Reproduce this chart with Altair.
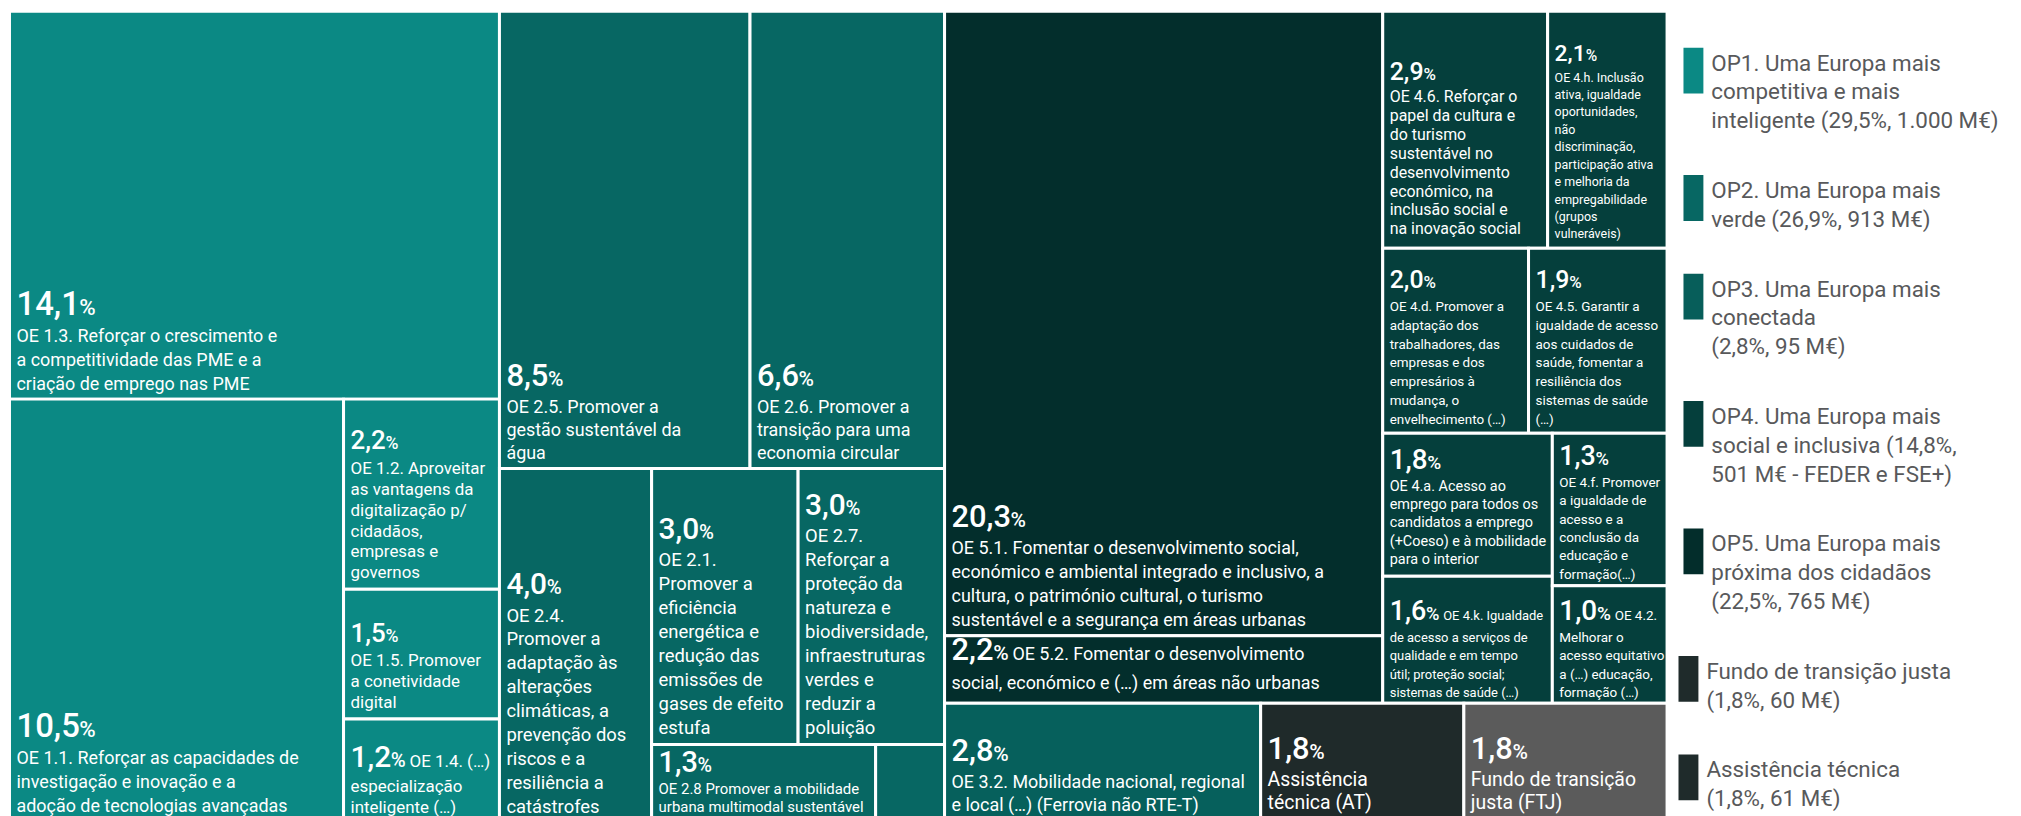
import altair as alt
import pandas as pd

# ---------------- data ----------------
tiles = ["OE 1.3", "OE 1.1", "OE 1.2", "OE 1.5", "OE 1.4",
         "OE 2.5", "OE 2.6", "OE 2.4", "OE 2.1", "OE 2.7", "OE 2.8", "OE 2.x",
         "OE 5.1", "OE 5.2",
         "OE 4.6", "OE 4.h", "OE 4.d", "OE 4.5", "OE 4.a", "OE 4.k", "OE 4.f", "OE 4.2",
         "OE 3.2", "AT", "FTJ"]
values = [14.1, 10.5, 2.2, 1.5, 1.2,
          8.5, 6.6, 4.0, 3.0, 3.0, 1.3, 0.4,
          20.3, 2.2,
          2.9, 2.1, 2.0, 1.9, 1.8, 1.6, 1.3, 1.0,
          2.8, 1.8, 1.8]
groups = ["OP1"] * 5 + ["OP2"] * 7 + ["OP5"] * 2 + ["OP4"] * 8 + ["OP3", "AT", "FTJ"]

descriptions = [
    ["OE 1.3. Reforçar o crescimento e", "a competitividade das PME e a", "criação de emprego nas PME"],
    ["OE 1.1. Reforçar as capacidades de", "investigação e inovação e a", "adoção de tecnologias avançadas"],
    ["OE 1.2. Aproveitar", "as vantagens da", "digitalização p/", "cidadãos,", "empresas e", "governos"],
    ["OE 1.5. Promover", "a conetividade", "digital"],
    ["OE 1.4. (…)", "especialização", "inteligente (…)"],
    ["OE 2.5. Promover a", "gestão sustentável da", "água"],
    ["OE 2.6. Promover a", "transição para uma", "economia circular"],
    ["OE 2.4.", "Promover a", "adaptação às", "alterações", "climáticas, a", "prevenção dos",
     "riscos e a", "resiliência a", "catástrofes"],
    ["OE 2.1.", "Promover a", "eficiência", "energética e", "redução das", "emissões de",
     "gases de efeito", "estufa"],
    ["OE 2.7.", "Reforçar a", "proteção da", "natureza e", "biodiversidade,", "infraestruturas",
     "verdes e", "reduzir a", "poluição"],
    ["OE 2.8 Promover a mobilidade", "urbana multimodal sustentável"],
    [],
    ["OE 5.1. Fomentar o desenvolvimento social,", "económico e ambiental integrado e inclusivo, a",
     "cultura, o património cultural, o turismo", "sustentável e a segurança em áreas urbanas"],
    ["OE 5.2. Fomentar o desenvolvimento", "social, económico e (…) em áreas não urbanas"],
    ["OE 4.6. Reforçar o", "papel da cultura e", "do turismo", "sustentável no", "desenvolvimento",
     "económico, na", "inclusão social e", "na inovação social"],
    ["OE 4.h. Inclusão", "ativa, igualdade", "oportunidades,", "não", "discriminação,",
     "participação ativa", "e melhoria da", "empregabilidade", "(grupos", "vulneráveis)"],
    ["OE 4.d. Promover a", "adaptação dos", "trabalhadores, das", "empresas e dos", "empresários à",
     "mudança, o", "envelhecimento (…)"],
    ["OE 4.5. Garantir a", "igualdade de acesso", "aos cuidados de", "saúde, fomentar a",
     "resiliência dos", "sistemas de saúde", "(…)"],
    ["OE 4.a. Acesso ao", "emprego para todos os", "candidatos a emprego", "(+Coeso) e à mobilidade",
     "para o interior"],
    ["OE 4.k. Igualdade", "de acesso a serviços de", "qualidade e em tempo", "útil; proteção social;",
     "sistemas de saúde (…)"],
    ["OE 4.f. Promover", "a igualdade de", "acesso e a", "conclusão da", "educação e", "formação(…)"],
    ["OE 4.2.", "Melhorar o", "acesso equitativo", "a (…) educação,", "formação (…)"],
    ["OE 3.2. Mobilidade nacional, regional", "e local (…) (Ferrovia não RTE-T)"],
    ["Assistência", "técnica (AT)"],
    ["Fundo de transição", "justa (FTJ)"],
]
# first description line sits on the same line as the percentage
inline_first = [False, False, False, False, True,
                False, False, False, False, False, False, False,
                False, True,
                False, False, False, False, False, True, False, True,
                False, False, False]

legend_groups = ["OP1", "OP2", "OP3", "OP4", "OP5", "FTJ", "AT"]
legend_labels = [
    ["OP1. Uma Europa mais", "competitiva e mais", "inteligente (29,5%, 1.000 M€)"],
    ["OP2. Uma Europa mais", "verde (26,9%, 913 M€)"],
    ["OP3. Uma Europa mais", "conectada", "(2,8%, 95 M€)"],
    ["OP4. Uma Europa mais", "social e inclusiva (14,8%,", "501 M€ - FEDER e FSE+)"],
    ["OP5. Uma Europa mais", "próxima  dos cidadãos", "(22,5%, 765 M€)"],
    ["Fundo de transição justa", "(1,8%, 60 M€)"],
    ["Assistência técnica", "(1,8%, 61 M€)"],
]

# nesting of the treemap: "h" = side by side, "v" = stacked
layout_tree = ("h", [
    ("v", ["OE 1.3", ("h", ["OE 1.1", ("v", ["OE 1.2", "OE 1.5", "OE 1.4"])])]),
    ("v", [("h", ["OE 2.5", "OE 2.6"]),
           ("h", ["OE 2.4", ("v", [("h", ["OE 2.1", "OE 2.7"]), ("h", ["OE 2.8", "OE 2.x"])])])]),
    ("v", [("h", [("v", ["OE 5.1", "OE 5.2"]),
                  ("v", [("h", ["OE 4.6", "OE 4.h"]),
                         ("h", ["OE 4.d", "OE 4.5"]),
                         ("h", [("v", ["OE 4.a", "OE 4.k"]), ("v", ["OE 4.f", "OE 4.2"])])])]),
           ("h", ["OE 3.2", "AT", "FTJ"])]),
])

# ---------------- styles ----------------
FONT = "Roboto"
tile_colors = {"OP1": "#0b8984", "OP2": "#076763", "OP3": "#06605c", "OP4": "#053f3c",
               "OP5": "#032e2c", "AT": "#1f2a2a", "FTJ": "#5b5b5b"}
legend_colors = {"OP1": "#0b8984", "OP2": "#076763", "OP3": "#075e5a", "OP4": "#053f3c",
                 "OP5": "#032d2b", "FTJ": "#1f2b2b", "AT": "#1f2b2b"}
legend_indent = {"FTJ": -5, "AT": -5}
# pct font, description font, line height, bottom padding
text_styles = {
    "OE 1.3": (33, 18, 24, 9), "OE 1.1": (33, 18, 24, 11),
    "OE 1.2": (26, 17, 21, 11), "OE 1.5": (26, 17, 21, 11), "OE 1.4": (30, 17, 21, 10),
    "OE 2.5": (31, 18, 23, 10), "OE 2.6": (31, 18, 23, 10),
    "OE 2.4": (30, 18.5, 24, 10), "OE 2.1": (30, 18.5, 24, 11), "OE 2.7": (30, 18.5, 24, 11),
    "OE 2.8": (29, 15, 18, 11),
    "OE 5.1": (31, 18, 24, 10), "OE 5.2": (31, 18, 26, 14),
    "OE 4.6": (25, 16, 19, 14), "OE 4.h": (23, 12.5, 17.5, 10),
    "OE 4.d": (25, 13.5, 19, 9), "OE 4.5": (25, 13.5, 19, 9),
    "OE 4.a": (28, 14.5, 18.5, 12), "OE 4.k": (27, 13, 18.5, 6),
    "OE 4.f": (27, 13.5, 18.5, 7), "OE 4.2": (28, 13.5, 18.5, 6),
    "OE 3.2": (31, 18, 23, 12), "AT": (31, 19.5, 23, 14), "FTJ": (31, 19.5, 23, 14),
}
inline_gap = 4

W, H = 2013, 808            # drawing area in pixels (page margin 8)
TREE_BOX = (0.5, 1.5, 1665.5, 816.5)

# ---------------- treemap layout from the values ----------------
val = dict(zip(tiles, values))


def total(node):
    if isinstance(node, str):
        return val[node]
    return sum(total(c) for c in node[1])


rects = {}


def layout(node, x0, y0, x1, y1):
    if isinstance(node, str):
        rects[node] = (x0, y0, x1, y1)
        return
    orient, kids = node
    t = total(node)
    pos = x0 if orient == "h" else y0
    for k in kids:
        share = total(k) / t
        if orient == "h":
            w = (x1 - x0) * share
            layout(k, pos, y0, pos + w, y1)
            pos += w
        else:
            h = (y1 - y0) * share
            layout(k, x0, pos, x1, pos + h)
            pos += h


layout(layout_tree, *TREE_BOX)

tile_df = pd.DataFrame([
    dict(tile=t, group=g, value=v, color=tile_colors[g],
         x0=rects[t][0], y0=rects[t][1], x1=rects[t][2], y1=rects[t][3])
    for t, v, g in zip(tiles, values, groups)
])


def num_width(s):
    # Roboto Medium advance widths (em)
    return sum(0.5615 if ch.isdigit() else 0.21 for ch in s)


pct_rows, desc_rows = [], []
for t, v, lines, inl in zip(tiles, values, descriptions, inline_first):
    if not lines:
        continue
    pfs, dfs, lh, pb = text_styles[t]
    x0, y0, x1, y1 = rects[t]
    tx = x0 + 7
    yb = y1 - pb
    below = lines[1:] if inl else lines
    n = len(below)
    for i, ln in enumerate(below):
        desc_rows.append(dict(x=tx, y=yb - (n - 1 - i) * lh, text=ln, fs=dfs))
    first = yb - (n - 1) * lh
    py = first - (lh + 3.5)
    label = f"{v:.1f}".replace(".", ",")
    wd = num_width(label) * pfs
    sfs = pfs * 0.68
    pct_rows.append(dict(x=tx, y=py, text=label, fs=pfs))
    pct_rows.append(dict(x=tx + wd + 0.5, y=py, text="%", fs=sfs))
    if inl:
        desc_rows.append(dict(x=tx + wd + 0.75 * sfs + inline_gap, y=py, text=lines[0], fs=dfs))
pct_df = pd.DataFrame(pct_rows)
desc_df = pd.DataFrame(desc_rows)

# legend layout
LEG_X, LEG_TOP, LEG_LH, LEG_GAP, LEG_FS = 1682, 38, 29, 41, 22.5
leg_rects, leg_text = [], []
top = LEG_TOP
for g, lab in zip(legend_groups, legend_labels):
    dx = legend_indent.get(g, 0)
    leg_rects.append(dict(x0=LEG_X + dx, x1=LEG_X + dx + 20, y0=top, y1=top + 46,
                          color=legend_colors[g]))
    for i, ln in enumerate(lab):
        leg_text.append(dict(x=LEG_X + dx + 28, y=top + 23 + i * LEG_LH, text=ln))
    top += len(lab) * LEG_LH + LEG_GAP
leg_rect_df = pd.DataFrame(leg_rects)
leg_text_df = pd.DataFrame(leg_text)

xs = alt.Scale(domain=[0, W], range=[0, W], nice=False, zero=False)
ys = alt.Scale(domain=[0, H], range=[0, H], nice=False, zero=False)

rect_layer = alt.Chart(tile_df).mark_rect(stroke="white", strokeWidth=3).encode(
    x=alt.X("x0:Q", scale=xs, axis=None),
    x2="x1:Q",
    y=alt.Y("y0:Q", scale=ys, axis=None),
    y2="y1:Q",
    color=alt.Color("color:N", scale=None),
)

pct_layer = alt.Chart(pct_df).mark_text(
    align="left", baseline="alphabetic", font=FONT, color="white", fontWeight=500
).encode(
    x=alt.X("x:Q", scale=xs, axis=None),
    y=alt.Y("y:Q", scale=ys, axis=None),
    text="text:N",
    size=alt.Size("fs:Q", scale=None),
)

desc_layer = alt.Chart(desc_df).mark_text(
    align="left", baseline="alphabetic", font=FONT, color="white"
).encode(
    x=alt.X("x:Q", scale=xs, axis=None),
    y=alt.Y("y:Q", scale=ys, axis=None),
    text="text:N",
    size=alt.Size("fs:Q", scale=None),
)

leg_rect_layer = alt.Chart(leg_rect_df).mark_rect().encode(
    x=alt.X("x0:Q", scale=xs, axis=None),
    x2="x1:Q",
    y=alt.Y("y0:Q", scale=ys, axis=None),
    y2="y1:Q",
    color=alt.Color("color:N", scale=None),
)

leg_text_layer = alt.Chart(leg_text_df).mark_text(
    align="left", baseline="alphabetic", font=FONT, color="#58595b", fontSize=LEG_FS
).encode(
    x=alt.X("x:Q", scale=xs, axis=None),
    y=alt.Y("y:Q", scale=ys, axis=None),
    text="text:N",
)

chart = alt.layer(rect_layer, pct_layer, desc_layer, leg_rect_layer, leg_text_layer).properties(
    width=W, height=H, padding=0
).configure_view(strokeWidth=0)

chart.save("out.html", embed_options={"renderer": "svg", "actions": False})
